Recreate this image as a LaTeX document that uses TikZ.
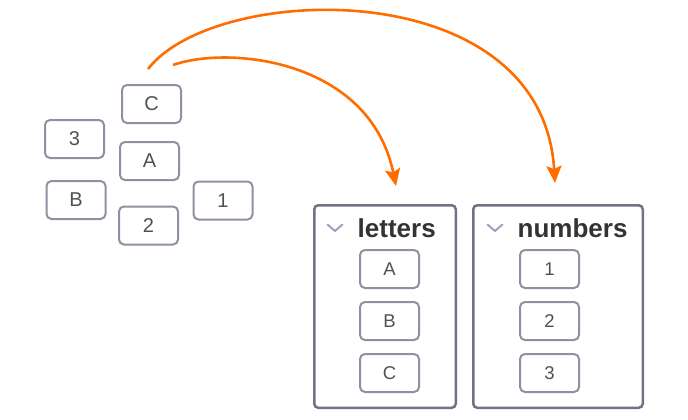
\documentclass[tikz,border=0pt]{standalone}
\usepackage{fontspec}
\setmainfont{Liberation Sans}
\usetikzlibrary{arrows.meta}
\definecolor{orng}{RGB}{255,109,0}
\definecolor{boxgrey}{RGB}{142,146,160}
\definecolor{contgrey}{RGB}{110,115,134}
\definecolor{txtgrey}{RGB}{80,80,80}
\definecolor{titlegrey}{RGB}{51,51,51}
\definecolor{chevgrey}{RGB}{154,165,184}
\begin{document}
\begin{tikzpicture}[x=1pt,y=-1pt,
  item/.style={draw=boxgrey, line width=2pt, rounded corners=5pt, minimum width=59pt, minimum height=38pt, inner sep=0pt, text=txtgrey},
  loose/.style={item, font=\fontsize{20}{20}\selectfont},
  inner/.style={item, font=\fontsize{18.5}{18.5}\selectfont},
  container/.style={draw=contgrey, line width=2.5pt, rounded corners=4pt, minimum width=141.5pt, minimum height=202.5pt, inner sep=0pt},
  title/.style={anchor=base west, inner sep=0pt, text=titlegrey, font=\fontsize{26}{26}\selectfont\bfseries},
  chev/.style={draw=chevgrey, line width=2pt, line cap=round, line join=round},
  flow/.style={draw=orng, line width=2.6pt, -{Stealth[length=17pt,width=15pt,inset=3pt]}}
]
\useasboundingbox (0,0) rectangle (688,420);

% loose items
\node[loose] (bC) at (151.5,104) {C};
\node[loose] (b3) at (74.5,139) {3};
\node[loose] (bA) at (149.5,161) {A};
\node[loose] (bB) at (76,200) {B};
\node[loose] (b1) at (223,200.5) {1};
\node[loose] (b2) at (148.5,225.5) {2};

% containers
\node[container] (letters) at (385,306.5) {};
\node[container, minimum width=169.5pt] (numbers) at (558,306.5) {};

\node[title] (lt) at (357.5,237) {letters};
\node[title] (nt) at (517.5,237) {numbers};
\draw[chev] (327.5,224.5) -- (335,231) -- (342.5,224.5);
\draw[chev] (487.5,224.5) -- (495,231) -- (502.5,224.5);

\node[inner] (lA) at (389.5,269) {A};
\node[inner] (lB) at (389.5,321) {B};
\node[inner] (lC) at (389.5,373) {C};
\node[inner] (n1) at (549.5,269) {1};
\node[inner] (n2) at (549.5,321) {2};
\node[inner] (n3) at (549.5,373) {3};

% arrows
\coordinate (s1) at (148,69);
\coordinate (s2) at (173,65);
\coordinate (t1) at (555,183);
\coordinate (t2) at (396,186);
\path[flow] (s1) .. controls (215,-18) and (542,-28) .. (t1);
\path[flow] (s2) .. controls (230,45) and (370,60) .. (t2);
\end{tikzpicture}
\end{document}
